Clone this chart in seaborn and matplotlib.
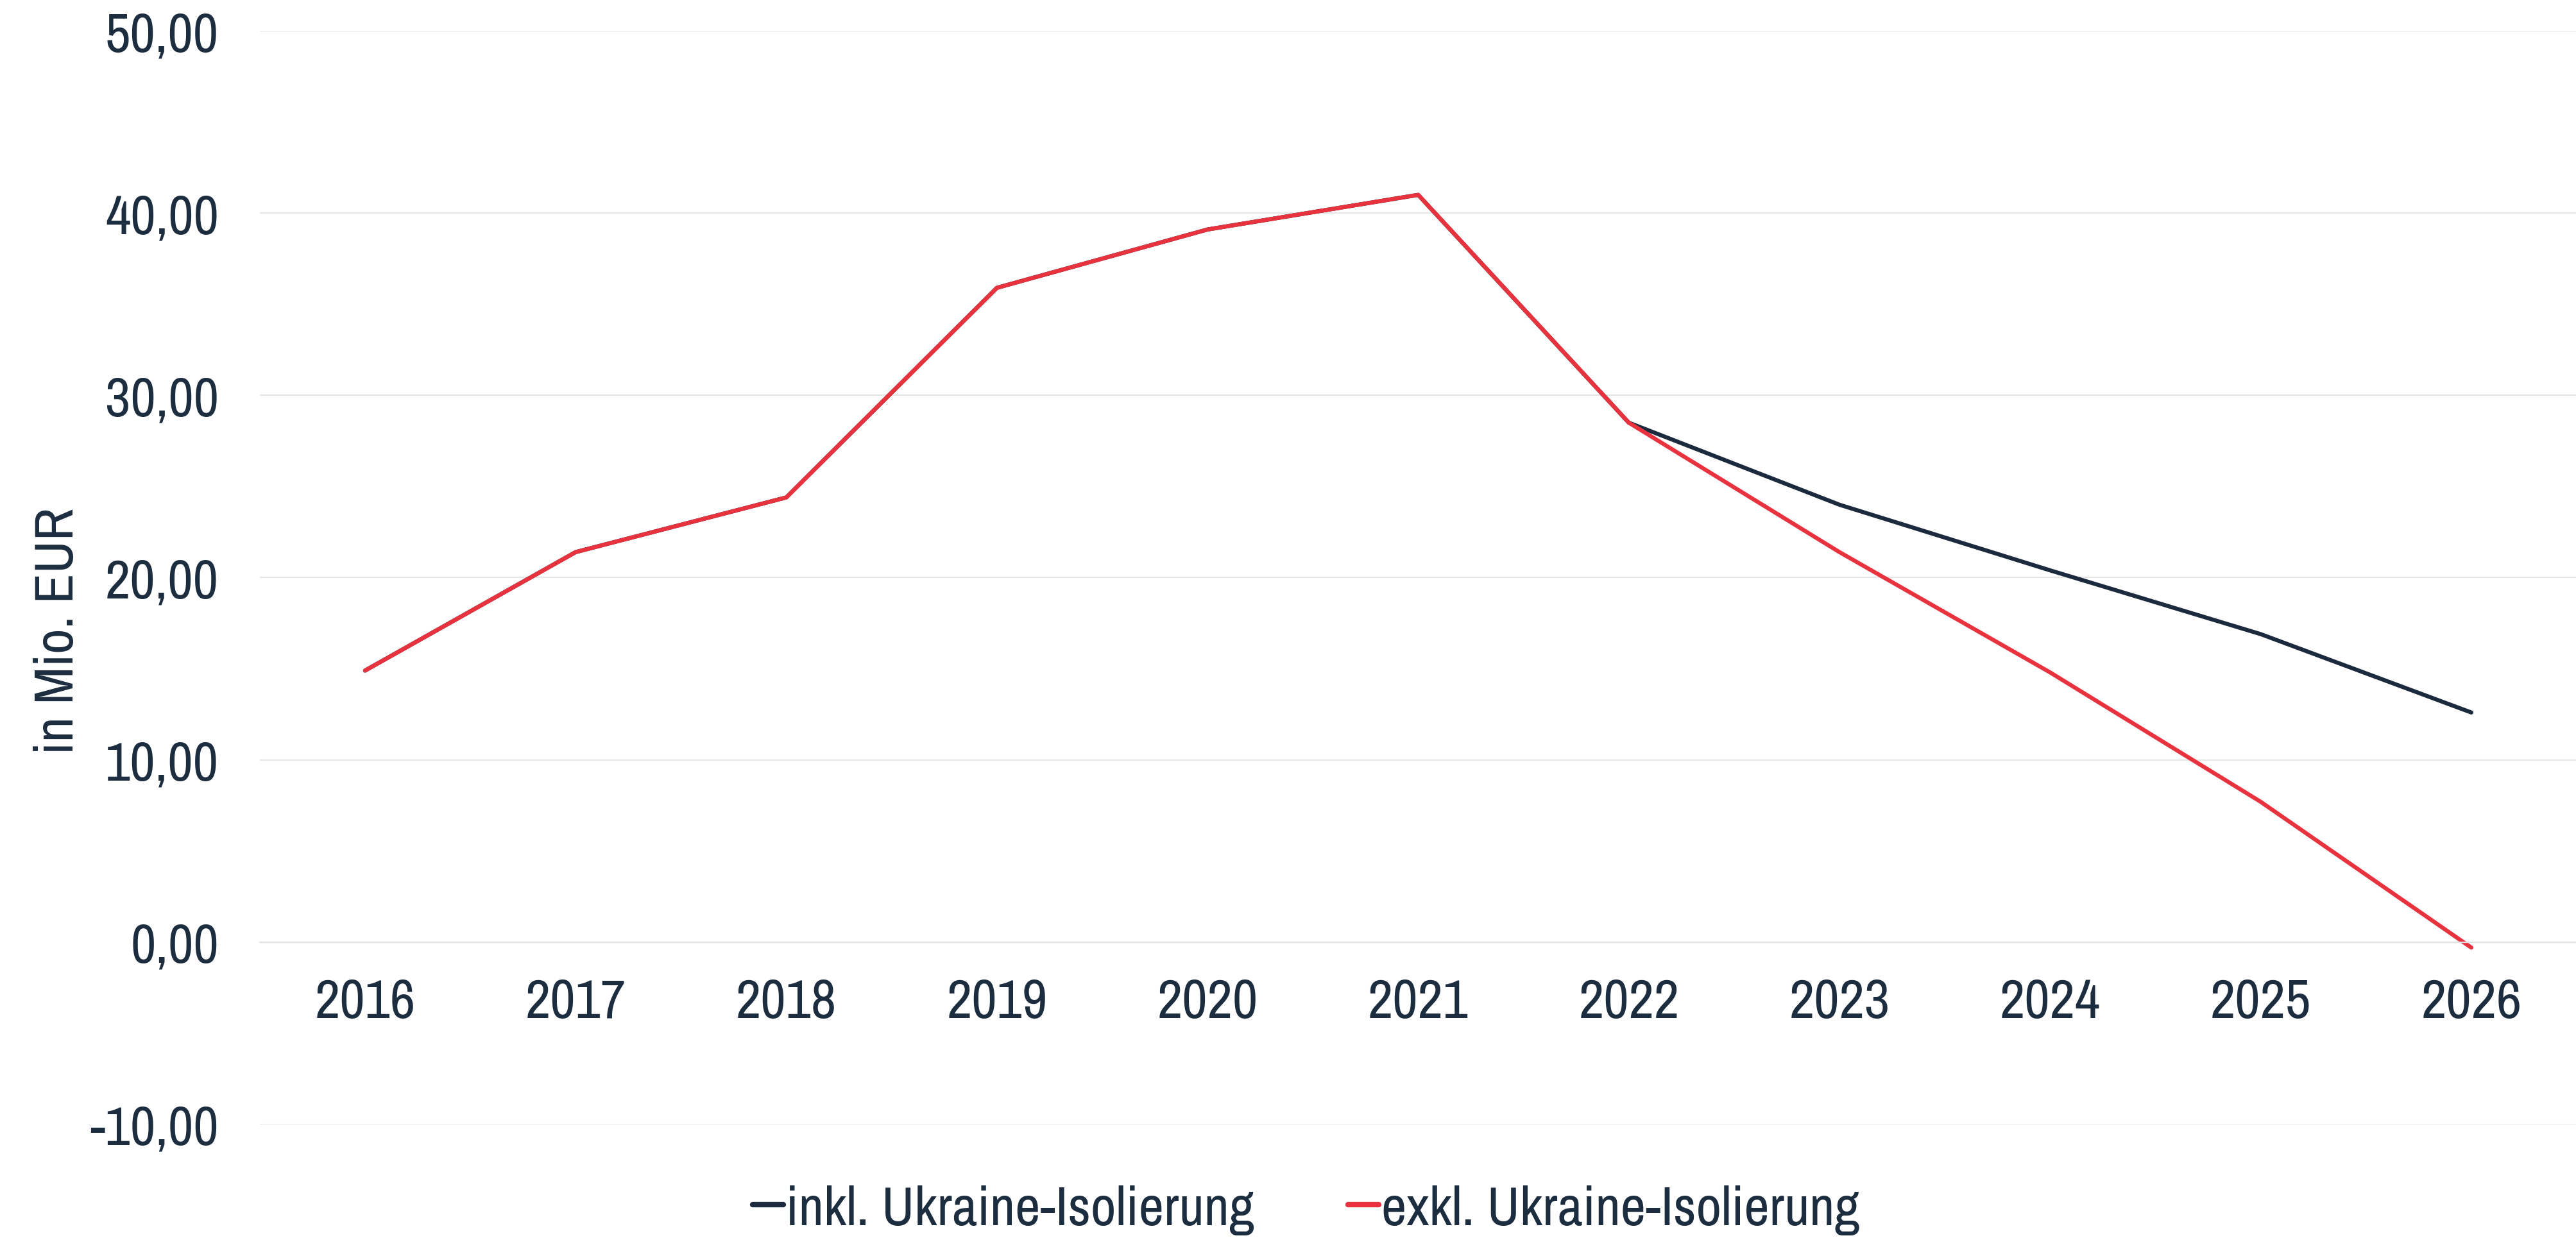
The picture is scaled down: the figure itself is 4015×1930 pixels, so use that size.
import pandas as pd
import matplotlib.pyplot as plt
import seaborn as sns
from matplotlib import font_manager
from matplotlib.ticker import FuncFormatter, MultipleLocator, FixedLocator

jahre = [2016, 2017, 2018, 2019, 2020, 2021, 2022, 2023, 2024, 2025, 2026]
inkl = [14.9, 21.4, 24.4, 35.9, 39.1, 41.0, 28.5, 24.0, 20.4, 16.9, 12.6]
exkl = [14.9, 21.4, 24.4, 35.9, 39.1, 41.0, 28.5, 21.4, 14.8, 7.7, -0.3]
serien = ['inkl. Ukraine-Isolierung', 'exkl. Ukraine-Isolierung']

df = pd.DataFrame({'Jahr': jahre * 2,
                   'Wert': inkl + exkl,
                   'Serie': [serien[0]] * len(jahre) + [serien[1]] * len(jahre)})

textfarbe = '#1c2d40'
farben = {serien[0]: '#1b2a3c', serien[1]: '#e8333f'}

# schmale Schrift, falls vorhanden
schmal = sorted({f.name for f in font_manager.fontManager.ttflist
                 if 'Narrow' in f.name or 'Condensed' in f.name})
if schmal:
    familie = [schmal[0], 'Liberation Sans', 'DejaVu Sans']
    fs = 31
else:
    familie = ['Liberation Sans', 'DejaVu Sans']
    fs = 27

sns.set_style('white')
plt.rcParams['font.family'] = familie
plt.rcParams['text.color'] = textfarbe

fig = plt.figure(figsize=(20.08, 9.655), dpi=200)
ax = fig.add_axes([0.1008, 0.0917, 0.8992, 0.8829])

sns.lineplot(data=df, x='Jahr', y='Wert', hue='Serie', hue_order=serien,
             palette=farben, linewidth=2.3, ax=ax, legend=False)

ax.set_xlim(2015.5, 2026.5)
ax.set_ylim(-10, 50)
ax.yaxis.set_major_locator(MultipleLocator(10))
ax.yaxis.set_major_formatter(FuncFormatter(lambda v, p: f'{v:.2f}'.replace('.', ',')))
ax.grid(axis='y', color='#e6e6e6', linewidth=0.8)
ax.set_axisbelow(True)

for s in ['top', 'right', 'left']:
    ax.spines[s].set_visible(False)
ax.spines['bottom'].set_position(('data', 0))
ax.spines['bottom'].set_color('#e2e2e2')
ax.spines['bottom'].set_linewidth(0.8)

ax.set_xticks(jahre)
ax.set_xticklabels([str(j) for j in jahre])
ax.xaxis.set_minor_locator(FixedLocator([j - 0.5 for j in jahre] + [2026.5]))
ax.tick_params(axis='x', which='major', length=0, pad=20, labelsize=fs, labelcolor=textfarbe)
ax.tick_params(axis='x', which='minor', length=7, width=0.8, color='#e2e2e2', direction='out')
ax.tick_params(axis='y', length=0, pad=23, labelsize=fs, labelcolor=textfarbe)

ax.set_xlabel('')
ax.set_ylabel('in Mio. EUR', fontsize=fs, color=textfarbe)
ax.yaxis.set_label_coords(-0.0765, 0.452)

handles = [plt.Line2D([], [], color=farben[s], linewidth=3) for s in serien]
fig.legend(handles, serien, loc='center', bbox_to_anchor=(0.507, 0.023), ncol=2,
           frameon=False, fontsize=fs, handlelength=0.55, handletextpad=0.05,
           columnspacing=1.7)

plt.savefig('out.png', dpi=200)
